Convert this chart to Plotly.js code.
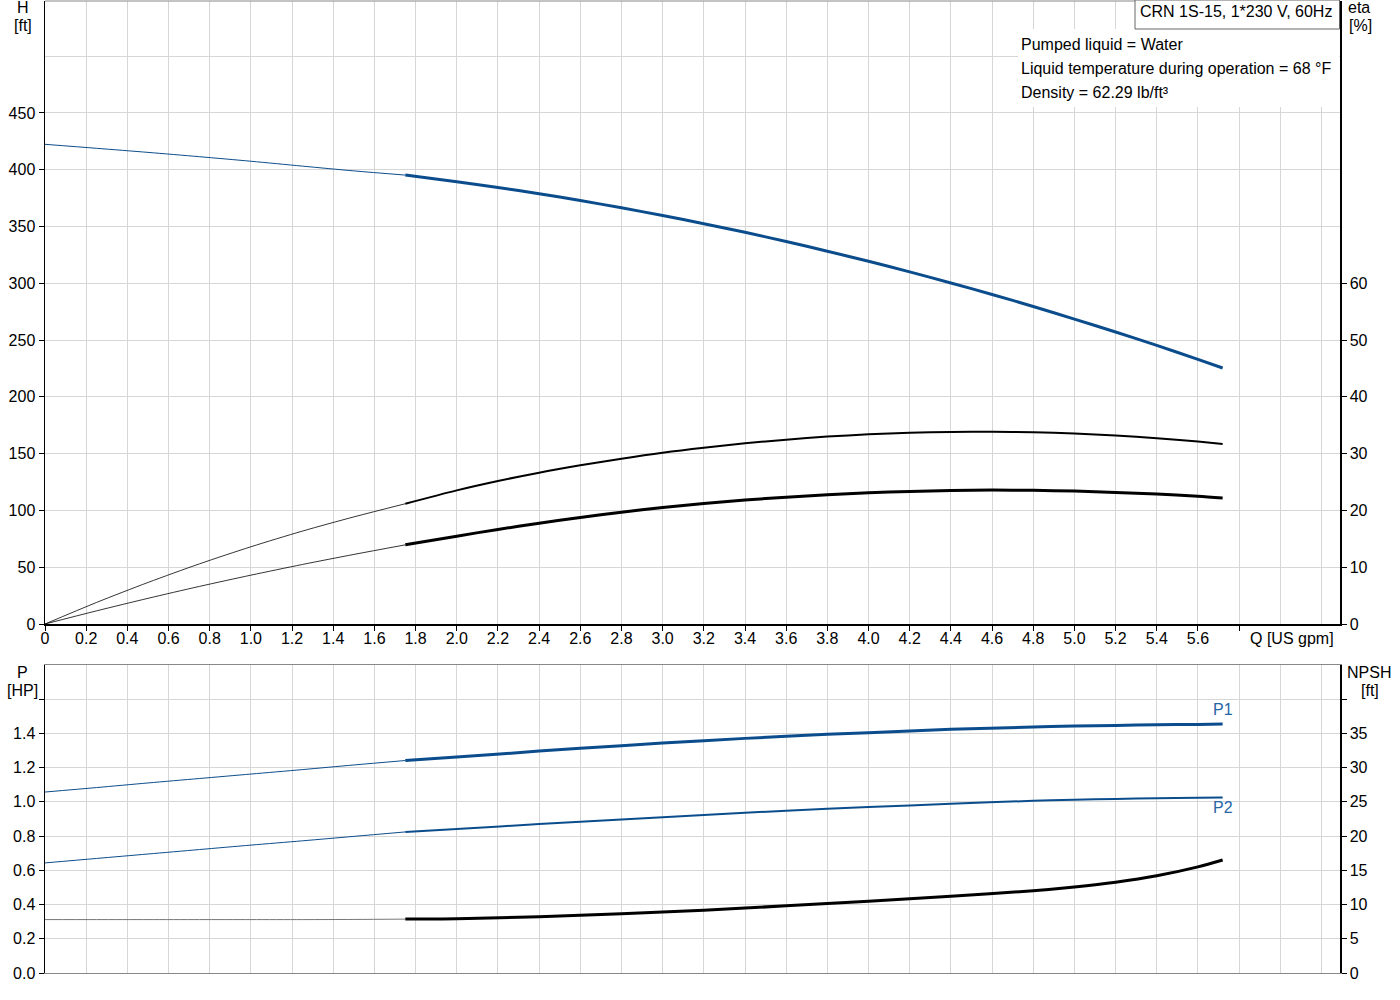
<!DOCTYPE html>
<html>
<head>
<meta charset="utf-8">
<script src="https://cdn.plot.ly/plotly-3.0.1.min.js"></script>
<style>
  body { margin: 0; background: #fff; }
  #chart { width: 1400px; height: 1000px; }
</style>
</head>
<body>
<div id="chart"></div>
<script>
// flow points: thin part (outside operating range) and thick part
var qThin = [0, 0.25, 0.5, 0.75, 1.0, 1.25, 1.5, 1.75];
var qHead = [1.75, 2.0, 2.2, 2.4, 2.6, 2.8, 3.0, 3.2, 3.4, 3.6, 3.8, 4.0, 4.2, 4.4, 4.6, 4.8, 5.0, 5.2, 5.4, 5.6, 5.72];
var qPower = [1.75, 2.0, 2.4, 2.8, 3.2, 3.6, 4.0, 4.4, 4.8, 5.0, 5.2, 5.4, 5.6, 5.72];

// head H [ft]
var headThin = [422.4, 418.9, 415.3, 411.5, 407.5, 403.2, 399.0, 395.3];
var headMain = [395.3, 389.5, 384.4, 378.9, 372.9, 366.5, 359.7, 352.5, 344.9, 336.8, 328.3, 319.4, 310.1, 300.3, 290.2, 279.6, 268.5, 257.1, 245.3, 233.0, 225.4];

// efficiencies [%]
var etaPumpThin = [0, 3.79, 7.31, 10.59, 13.6, 16.36, 18.86, 21.18];
var etaPumpMain = [21.18, 23.53, 25.18, 26.65, 27.94, 29.12, 30.18, 31.06, 31.82, 32.47, 33.0, 33.41, 33.67, 33.82, 33.86, 33.78, 33.56, 33.2, 32.72, 32.12, 31.71];
var etaTotalThin = [0, 2.31, 4.52, 6.62, 8.6, 10.48, 12.25, 13.94];
var etaTotalMain = [13.94, 15.47, 16.65, 17.76, 18.76, 19.68, 20.51, 21.22, 21.82, 22.33, 22.75, 23.1, 23.35, 23.52, 23.58, 23.54, 23.41, 23.18, 22.88, 22.49, 22.18];

// power [HP]
var p1Thin = [1.057, 1.083, 1.110, 1.136, 1.162, 1.188, 1.215, 1.241];
var p1Main = [1.241, 1.261, 1.296, 1.328, 1.357, 1.383, 1.404, 1.423, 1.437, 1.442, 1.446, 1.450, 1.452, 1.454];
var p2Thin = [0.643, 0.669, 0.695, 0.721, 0.747, 0.772, 0.798, 0.824];
var p2Main = [0.824, 0.841, 0.870, 0.897, 0.923, 0.948, 0.969, 0.988, 1.006, 1.012, 1.017, 1.021, 1.024, 1.025];

// NPSH [ft]
var npshThin = [7.8, 7.8, 7.8, 7.8, 7.8, 7.8, 7.82, 7.87];
var npshMain = [7.87, 7.92, 8.21, 8.65, 9.18, 9.81, 10.48, 11.21, 12.0, 12.55, 13.25, 14.2, 15.5, 16.5];

// tick labels
var qTicks = [0, 0.2, 0.4, 0.6, 0.8, 1.0, 1.2, 1.4, 1.6, 1.8, 2.0, 2.2, 2.4, 2.6, 2.8, 3.0, 3.2, 3.4, 3.6, 3.8, 4.0, 4.2, 4.4, 4.6, 4.8, 5.0, 5.2, 5.4, 5.6, 5.8];
var qTickText = ['0', '0.2', '0.4', '0.6', '0.8', '1.0', '1.2', '1.4', '1.6', '1.8', '2.0', '2.2', '2.4', '2.6', '2.8', '3.0', '3.2', '3.4', '3.6', '3.8', '4.0', '4.2', '4.4', '4.6', '4.8', '5.0', '5.2', '5.4', '5.6', ''];
var qExtraGrid = [6.0, 6.2];
var hTicks = [0, 50, 100, 150, 200, 250, 300, 350, 400, 450];
var hExtraGrid = [500];
var etaTicks = [0, 10, 20, 30, 40, 50, 60];
var pTicks = [0, 0.2, 0.4, 0.6, 0.8, 1.0, 1.2, 1.4, 1.6];
var pTickText = ['0.0', '0.2', '0.4', '0.6', '0.8', '1.0', '1.2', '1.4', ''];
var npshTicks = [0, 5, 10, 15, 20, 25, 30, 35, 40];
var npshTickText = ['0', '5', '10', '15', '20', '25', '30', '35', ''];

var pumpTitle = 'CRN 1S-15, 1*230 V, 60Hz';
var infoLines = ['Pumped liquid = Water', 'Liquid temperature during operation = 68 °F', 'Density = 62.29 lb/ft³'];

var BLUE = '#0b4d8c';
var BLACK = '#000000';
var GRID = '#d6d6d6';
var FONT = 'Liberation Sans, Arial, sans-serif';

// pixel -> paper helpers (plot area 45..1340 x 1..973)
function px(x){ return (x - 45) / 1295; }
function py(y){ return (973 - y) / 972; }

function curve(x, y, xa, ya, color, width){
	return {x: x, y: y, xaxis: xa, yaxis: ya, type: 'scatter', mode: 'lines',
		line: {color: color, width: width, shape: 'spline', smoothing: 0.8}, hoverinfo: 'skip'};
}

var data = [
	curve(qThin, headThin, 'x', 'y', BLUE, 1),
	curve(qHead, headMain, 'x', 'y', BLUE, 3),
	curve(qThin, etaPumpThin, 'x', 'y2', BLACK, 0.8),
	curve(qHead, etaPumpMain, 'x', 'y2', BLACK, 2),
	curve(qThin, etaTotalThin, 'x', 'y2', BLACK, 0.8),
	curve(qHead, etaTotalMain, 'x', 'y2', BLACK, 3),
	curve(qThin, p1Thin, 'x2', 'y3', BLUE, 1),
	curve(qPower, p1Main, 'x2', 'y3', BLUE, 3),
	curve(qThin, p2Thin, 'x2', 'y3', BLUE, 1),
	curve(qPower, p2Main, 'x2', 'y3', BLUE, 2),
	curve(qThin, npshThin, 'x2', 'y4', '#777777', 1),
	curve(qPower, npshMain, 'x2', 'y4', BLACK, 3)
];

var tickFont = {family: FONT, size: 16, color: '#000'};

var layout = {
	width: 1400,
	height: 1000,
	margin: {l: 45, r: 60, t: 1, b: 27},
	showlegend: false,
	paper_bgcolor: '#ffffff',
	plot_bgcolor: '#ffffff',
	font: tickFont,
	xaxis: {
		domain: [0, 1], anchor: 'y', range: [0, 6.29],
		tickmode: 'array', tickvals: qTicks, ticktext: qTickText,
		ticks: 'outside', ticklen: 5, tickcolor: '#000', tickfont: tickFont,
		ticklabelstandoff: -6,
		showline: true, linecolor: '#000', linewidth: 1.5,
		showgrid: true, gridcolor: GRID, gridwidth: 1, zeroline: false,
		minor: {tickvals: qExtraGrid, showgrid: true, gridcolor: GRID, gridwidth: 1, ticks: ''}
	},
	yaxis: {
		domain: [349 / 972, 1], anchor: 'x', range: [0, 548.6],
		tickmode: 'array', tickvals: hTicks,
		ticks: 'outside', ticklen: 5, tickcolor: '#000', tickfont: tickFont,
		showline: true, linecolor: '#000', linewidth: 1.5,
		showgrid: true, gridcolor: GRID, gridwidth: 1, zeroline: false,
		minor: {tickvals: hExtraGrid, showgrid: true, gridcolor: GRID, gridwidth: 1, ticks: ''}
	},
	yaxis2: {
		overlaying: 'y', side: 'right', anchor: 'x', range: [0, 109.72],
		tickmode: 'array', tickvals: etaTicks,
		ticks: 'outside', ticklen: 5, tickcolor: '#000', tickfont: tickFont,
		showline: true, linecolor: '#000', linewidth: 1.5,
		showgrid: false, zeroline: false
	},
	xaxis2: {
		domain: [0, 1], anchor: 'y3', range: [0, 6.29],
		tickmode: 'array', tickvals: qTicks, showticklabels: false, ticks: '',
		showline: true, linecolor: '#888', linewidth: 1, mirror: true,
		showgrid: true, gridcolor: GRID, gridwidth: 1, zeroline: false,
		minor: {tickvals: qExtraGrid, showgrid: true, gridcolor: GRID, gridwidth: 1, ticks: ''}
	},
	yaxis3: {
		domain: [0, 308 / 972], anchor: 'x2', range: [0, 1.799],
		tickmode: 'array', tickvals: pTicks, ticktext: pTickText,
		ticks: 'outside', ticklen: 5, tickcolor: '#000', tickfont: tickFont,
		showline: true, linecolor: '#000', linewidth: 1.5,
		showgrid: true, gridcolor: GRID, gridwidth: 1, zeroline: false
	},
	yaxis4: {
		overlaying: 'y3', side: 'right', anchor: 'x2', range: [0, 44.98],
		tickmode: 'array', tickvals: npshTicks, ticktext: npshTickText,
		ticks: 'outside', ticklen: 5, tickcolor: '#000', tickfont: tickFont,
		showline: true, linecolor: '#000', linewidth: 1.5,
		showgrid: false, zeroline: false
	},
	shapes: [
		// top border of the upper plot
		{type: 'line', xref: 'paper', yref: 'paper', x0: 0, x1: 1, y0: 1, y1: 1,
			line: {color: '#888', width: 1}},
		// white background behind the liquid info
		{type: 'rect', xref: 'paper', yref: 'paper', x0: px(1018), x1: px(1339), y0: py(107), y1: py(29),
			fillcolor: '#ffffff', line: {width: 0}},
		// framed pump title
		{type: 'rect', xref: 'paper', yref: 'paper', x0: px(1135), x1: px(1339.5), y0: py(29), y1: py(0),
			fillcolor: '#ffffff', line: {color: '#666', width: 1}}
	],
	annotations: []
};

function note(text, x, y, anchor, color){
	layout.annotations.push({text: text, xref: 'paper', yref: 'paper', x: x, y: y,
		xanchor: anchor || 'center', yanchor: 'middle', showarrow: false,
		font: {family: FONT, size: 16, color: color || '#000'}});
}

note('H', px(23), py(8));
note('[ft]', px(23), py(25));
note('eta', px(1359), py(7));
note('[%]', px(1360), py(25));
note('P', px(22), py(672));
note('[HP]', px(22), py(690));
note('NPSH', px(1369), py(672));
note('[ft]', px(1370), py(690));
note('Q [US gpm]', px(1292), py(638));
note(pumpTitle, px(1138), py(12), 'left');
for (var i = 0; i < infoLines.length; i++){
	note(infoLines[i], px(1019), py(44 + i * 24), 'left');
}
note('P1', px(1223), py(709), 'center', '#2566a6');
note('P2', px(1223), py(807), 'center', '#2566a6');

Plotly.newPlot('chart', data, layout, {displayModeBar: false, staticPlot: true});
</script>
</body>
</html>
